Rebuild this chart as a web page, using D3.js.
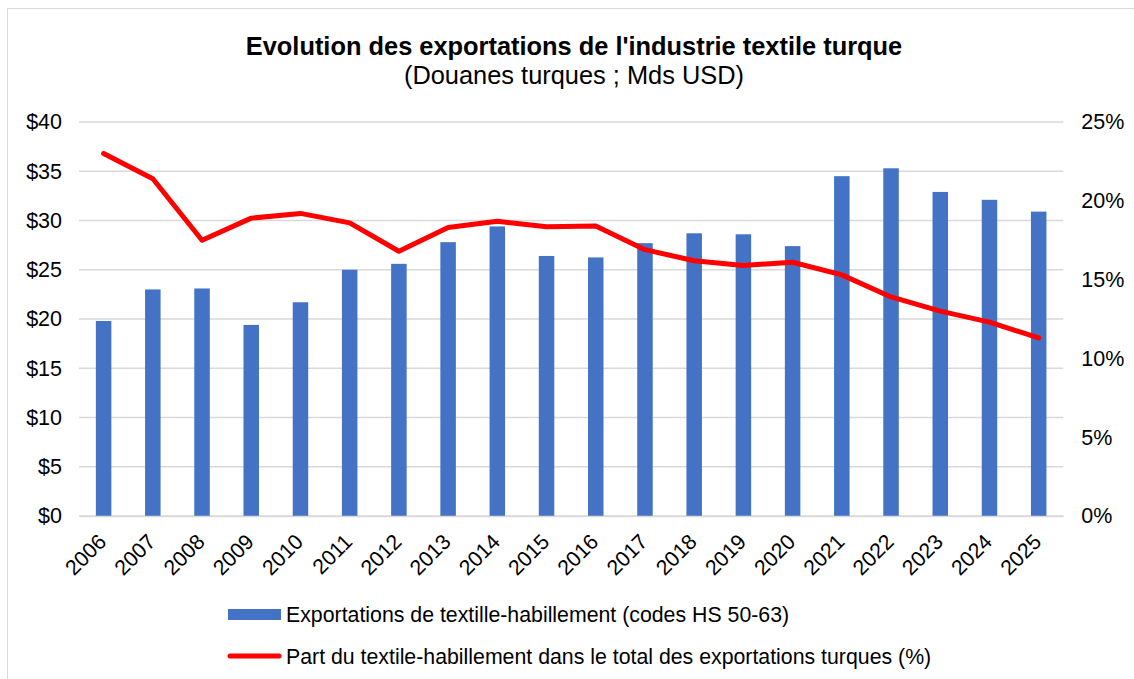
<!DOCTYPE html>
<html><head><meta charset="utf-8">
<script src="https://cdn.jsdelivr.net/npm/d3@7"></script>
<style>body{margin:0;background:#fff;font-family:"Liberation Sans",Arial,sans-serif;}</style>
</head><body><svg id="c" width="1134" height="679"></svg>
<script>
const years = ["2006","2007","2008","2009","2010","2011","2012","2013","2014","2015","2016","2017","2018","2019","2020","2021","2022","2023","2024","2025"];
const exportsUSD = [19.8,23.0,23.1,19.4,21.7,25.0,25.6,27.8,29.4,26.4,26.25,27.7,28.7,28.6,27.4,34.5,35.3,32.9,32.1,30.9];
const sharePct = [23.0,21.4,17.5,18.9,19.2,18.6,16.8,18.3,18.7,18.35,18.4,16.9,16.2,15.9,16.1,15.3,13.9,13.0,12.3,11.3];
const leftTicks = [0,5,10,15,20,25,30,35,40];
const rightTicks = [0,5,10,15,20,25];
const title = "Evolution des exportations de l'industrie textile turque";
const subtitle = "(Douanes turques ; Mds USD)";
const legendBar = "Exportations de textille-habillement (codes HS 50-63)";
const legendLine = "Part du textile-habillement dans le total des exportations turques (%)";

const FF = "Liberation Sans, Arial, sans-serif";
const svg = d3.select("#c");
const L=79, R=1063.3, T=122, B=516;
svg.append("rect").attr("x",7.5).attr("y",8.5).attr("width",1140).attr("height",700)
  .attr("fill","#fff").attr("stroke","#d9d9d9").attr("stroke-width",1);

const x = d3.scaleBand().domain(years).range([L,R]).paddingInner(0.685).paddingOuter(0.3425);
const y = d3.scaleLinear().domain([0,40]).range([B,T]);
const y2 = d3.scaleLinear().domain([0,25]).range([B,T]);

// gridlines
svg.append("g").selectAll("line").data(leftTicks).join("line")
  .attr("x1",L).attr("x2",R).attr("y1",d=>y(d)).attr("y2",d=>y(d))
  .attr("stroke","#d9d9d9").attr("stroke-width",1.5);

// left axis
const ya = svg.append("g").attr("transform",`translate(${L},0)`)
  .call(d3.axisLeft(y).tickValues(leftTicks).tickFormat(d=>"$"+d).tickSize(0).tickPadding(17));
ya.select(".domain").remove();
ya.selectAll("text").attr("font-size",21.5).attr("fill","#000").attr("font-family",FF);

// right axis
const yb = svg.append("g").attr("transform",`translate(${R},0)`)
  .call(d3.axisRight(y2).tickValues(rightTicks).tickFormat(d=>d+"%").tickSize(0).tickPadding(18));
yb.select(".domain").remove();
yb.selectAll("text").attr("font-size",21.5).attr("fill","#000").attr("font-family",FF);

// bars
svg.append("g").selectAll("rect").data(exportsUSD).join("rect")
  .attr("x",(d,i)=>x(years[i])).attr("width",x.bandwidth())
  .attr("y",d=>y(d)).attr("height",d=>B-y(d)).attr("fill","#4472C4");

// x axis
const xa = svg.append("g").attr("transform",`translate(0,${B})`)
  .call(d3.axisBottom(x).tickSize(0).tickPadding(0));
xa.select(".domain").attr("stroke","#d9d9d9").attr("stroke-width",1.5);
xa.selectAll("text").attr("font-size",21.3).attr("fill","#000")
  .attr("font-family",FF)
  .attr("text-anchor","end").attr("y",0).attr("dy",0)
  .attr("transform","translate(4,27) rotate(-45)");

// line
const line = d3.line().x((d,i)=>x(years[i])+x.bandwidth()/2).y(d=>y2(d));
svg.append("path").datum(sharePct).attr("d",line).attr("fill","none")
  .attr("stroke","#FF0000").attr("stroke-width",5).attr("stroke-linejoin","round").attr("stroke-linecap","round");

// titles
svg.append("text").attr("x",574).attr("y",55).attr("text-anchor","middle").attr("font-family",FF)
  .attr("font-size",25.4).attr("font-weight","bold").text(title);
svg.append("text").attr("x",574).attr("y",84).attr("text-anchor","middle").attr("font-family",FF)
  .attr("font-size",25.4).text(subtitle);

// legend
const lg = svg.append("g");
lg.append("rect").attr("x",228).attr("y",609).attr("width",53).attr("height",11).attr("fill","#4472C4");
lg.append("text").attr("x",286).attr("y",622).attr("font-size",21.3).attr("font-family",FF).text(legendBar);
lg.append("line").attr("x1",230).attr("x2",279).attr("y1",656).attr("y2",656)
  .attr("stroke","#FF0000").attr("stroke-width",5).attr("stroke-linecap","round");
lg.append("text").attr("x",286).attr("y",664).attr("font-size",21.3).attr("font-family",FF).text(legendLine);
</script></body></html>
